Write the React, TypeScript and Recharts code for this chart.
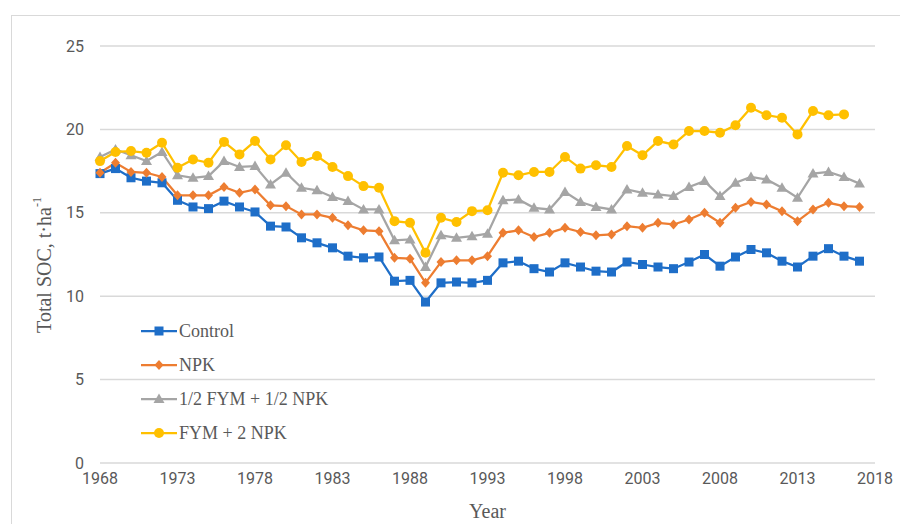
import React from "react";
import { LineChart, Line, XAxis, YAxis, CartesianGrid, Legend, Label } from "recharts";

// Years of the long-term experiment
const YEARS: number[] = [
  1968, 1969, 1970, 1971, 1972, 1973, 1974, 1975, 1976, 1977,
  1978, 1979, 1980, 1981, 1982, 1983, 1984, 1985, 1986, 1987,
  1988, 1989, 1990, 1991, 1992, 1993, 1994, 1995, 1996, 1997,
  1998, 1999, 2000, 2001, 2002, 2003, 2004, 2005, 2006, 2007,
  2008, 2009, 2010, 2011, 2012, 2013, 2014, 2015, 2016, 2017,
];

const CONTROL: number[] = [
  17.35, 17.65, 17.1, 16.9, 16.8, 15.75, 15.35, 15.25, 15.7, 15.35,
  15.05, 14.2, 14.15, 13.5, 13.2, 12.9, 12.4, 12.3, 12.35, 10.9,
  10.95, 9.65, 10.8, 10.85, 10.8, 10.95, 12.0, 12.1, 11.65, 11.45,
  12.0, 11.75, 11.5, 11.45, 12.05, 11.9, 11.75, 11.65, 12.05, 12.5,
  11.8, 12.35, 12.8, 12.6, 12.1, 11.75, 12.4, 12.85, 12.4, 12.1,
];

const NPK: number[] = [
  17.4, 18.0, 17.45, 17.4, 17.15, 16.05, 16.05, 16.05, 16.55, 16.2,
  16.4, 15.45, 15.4, 14.9, 14.9, 14.7, 14.25, 13.95, 13.9, 12.3,
  12.25, 10.8, 12.05, 12.15, 12.15, 12.4, 13.8, 13.95, 13.55, 13.8,
  14.1, 13.85, 13.65, 13.7, 14.2, 14.1, 14.4, 14.3, 14.6, 15.0,
  14.4, 15.3, 15.65, 15.5, 15.1, 14.5, 15.2, 15.6, 15.4, 15.35,
];

const HALF_FYM_NPK: number[] = [
  18.35, 18.8, 18.45, 18.1, 18.65, 17.25, 17.1, 17.2, 18.1, 17.75,
  17.8, 16.7, 17.4, 16.5, 16.35, 15.95, 15.7, 15.2, 15.2, 13.35,
  13.4, 11.75, 13.65, 13.5, 13.6, 13.75, 15.75, 15.8, 15.3, 15.2,
  16.25, 15.65, 15.35, 15.2, 16.4, 16.2, 16.1, 16.0, 16.55, 16.9,
  16.0, 16.8, 17.15, 17.0, 16.5, 15.9, 17.35, 17.45, 17.15, 16.75,
];

const FYM_2NPK: (number | null)[] = [
  18.1, 18.65, 18.7, 18.6, 19.2, 17.7, 18.2, 18.0, 19.25, 18.5,
  19.3, 18.2, 19.05, 18.05, 18.4, 17.75, 17.2, 16.6, 16.5, 14.5,
  14.4, 12.6, 14.7, 14.45, 15.1, 15.15, 17.4, 17.25, 17.45, 17.45,
  18.35, 17.65, 17.85, 17.75, 19.0, 18.45, 19.3, 19.1, 19.9, 19.9,
  19.8, 20.25, 21.3, 20.85, 20.7, 19.7, 21.1, 20.85, 20.9, null,
];

const X_TICKS: number[] = [1968, 1973, 1978, 1983, 1988, 1993, 1998, 2003, 2008, 2013, 2018];
const Y_TICKS: number[] = [0, 5, 10, 15, 20, 25];

type Shape = "square" | "diamond" | "triangle" | "circle";

const SERIES: { key: string; name: string; color: string; shape: Shape }[] = [
  { key: "control", name: "Control", color: "#1e6ec8", shape: "square" },
  { key: "npk", name: "NPK", color: "#ed7d31", shape: "diamond" },
  { key: "half", name: "1/2 FYM + 1/2 NPK", color: "#a5a5a5", shape: "triangle" },
  { key: "fym", name: "FYM + 2 NPK", color: "#ffc000", shape: "circle" },
];

const data = YEARS.map((year, i) => ({
  year,
  control: CONTROL[i],
  npk: NPK[i],
  half: HALF_FYM_NPK[i],
  fym: FYM_2NPK[i],
}));

const TICK_FONT = '"Liberation Sans Narrow", "Roboto", sans-serif';
const SERIF = '"Liberation Serif", "DejaVu Serif", serif';
const TEXT_GRAY = "#595959";

const Marker: React.FC<{ shape: Shape; cx: number; cy: number; color: string }> = ({ shape, cx, cy, color }) => {
  switch (shape) {
    case "square":
      return <rect x={cx - 4.5} y={cy - 4.5} width={9} height={9} fill={color} />;
    case "diamond":
      return <polygon points={`${cx},${cy - 5} ${cx + 4.5},${cy} ${cx},${cy + 5} ${cx - 4.5},${cy}`} fill={color} />;
    case "triangle":
      return <polygon points={`${cx},${cy - 5.5} ${cx + 5.5},${cy + 4} ${cx - 5.5},${cy + 4}`} fill={color} />;
    default:
      return <circle cx={cx} cy={cy} r={5} fill={color} />;
  }
};

const makeDot = (shape: Shape, color: string) => (props: any) => {
  const { cx, cy, index, value } = props;
  if (cx == null || cy == null || value == null) return <g key={`d-${index}`} />;
  return <Marker key={`d-${index}`} shape={shape} cx={cx} cy={cy} color={color} />;
};

const CustomLegend: React.FC<any> = () => (
  <div style={{ fontFamily: SERIF, fontSize: 18, color: TEXT_GRAY }}>
    {SERIES.map((s) => (
      <div key={s.key} style={{ display: "flex", alignItems: "center", height: 34 }}>
        <svg width={37} height={14} style={{ marginRight: 1 }}>
          <line x1={0} y1={7} x2={36} y2={7} stroke={s.color} strokeWidth={2.25} />
          <Marker shape={s.shape} cx={18} cy={7} color={s.color} />
        </svg>
        <span>{s.name}</span>
      </div>
    ))}
  </div>
);

const YTitle = () => (
  <text
    x={44}
    y={265}
    transform="rotate(-90, 44, 265)"
    textAnchor="middle"
    dominantBaseline="central"
    fontFamily={SERIF}
    fontSize={20}
    fill={TEXT_GRAY}
  >
    Total SOC, t·ha
    <tspan dy={-7} fontSize={12}>-1</tspan>
  </text>
);

const App: React.FC = () => {
  return (
    <div style={{ position: "absolute", left: 0, top: 0, width: 900, height: 524, overflow: "hidden", background: "#fff" }}>
      <div
        style={{
          position: "absolute",
          left: 11,
          top: 15,
          width: 900,
          height: 530,
          border: "1px solid #d9d9d9",
        }}
      />
      <div style={{ position: "absolute", left: 0, top: 0 }}>
        <LineChart width={900} height={524} data={data} margin={{ top: 46, right: 25, left: 0, bottom: 0 }}>
          <CartesianGrid vertical={false} stroke="#d9d9d9" strokeWidth={1.5} />
          <XAxis
            dataKey="year"
            type="number"
            domain={[1968, 2018]}
            ticks={X_TICKS}
            interval={0}
            height={61}
            axisLine={false}
            tickLine={false}
            tickSize={0}
            tickMargin={10}
            tick={{ fill: TEXT_GRAY, fontSize: 16, fontFamily: TICK_FONT }}
          >
            <Label value="Year" position="insideBottom" offset={6} fill={TEXT_GRAY} fontSize={20} fontFamily={SERIF} />
          </XAxis>
          <YAxis
            type="number"
            domain={[0, 25]}
            ticks={Y_TICKS}
            width={100}
            axisLine={false}
            tickLine={false}
            tickSize={0}
            tickMargin={16}
            tick={{ fill: TEXT_GRAY, fontSize: 16, fontFamily: TICK_FONT }}
            label={{ content: YTitle }}
          />
          {SERIES.map((s) => (
            <Line
              key={s.key}
              dataKey={s.key}
              name={s.name}
              stroke={s.color}
              strokeWidth={2.25}
              dot={makeDot(s.shape, s.color)}
              activeDot={false}
              isAnimationActive={false}
              type="linear"
            />
          ))}
          <Legend
            content={<CustomLegend />}
            layout="vertical"
            align="center"
            verticalAlign="middle"
            wrapperStyle={{ left: 141, top: 314, width: 220 }}
          />
        </LineChart>
      </div>
    </div>
  );
};

export default App;
